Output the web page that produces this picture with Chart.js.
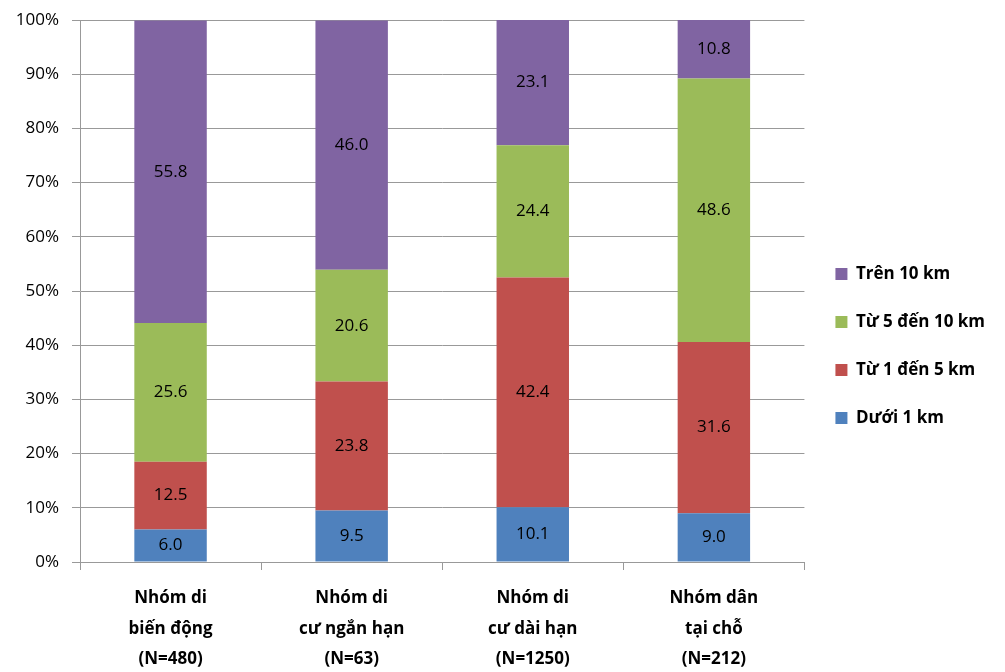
<!DOCTYPE html>
<html>
<head>
<meta charset="utf-8">
<script src="https://cdn.jsdelivr.net/npm/chart.js@4.4.0/dist/chart.umd.min.js"></script>
<style>
  html, body { margin: 0; padding: 0; background: #fff; }
  #wrap { width: 1005px; height: 672px; }
</style>
</head>
<body>
<div id="wrap"><canvas id="chart" width="1005" height="672"></canvas></div>
<script>
const groups = [
  ['Nhóm di', 'biến động', '(N=480)'],
  ['Nhóm di', 'cư ngắn hạn', '(N=63)'],
  ['Nhóm di', 'cư dài hạn', '(N=1250)'],
  ['Nhóm dân', 'tại chỗ', '(N=212)']
]
const under1 = [6.0, 9.5, 10.1, 9.0]
const from1to5 = [12.5, 23.8, 42.4, 31.6]
const from5to10 = [25.6, 20.6, 24.4, 48.6]
const over10 = [55.8, 46.0, 23.1, 10.8]

const font = '"Open Sans", Lato, sans-serif'
const gridGray = '#999999'

// writes the value in the middle of each segment
const segmentLabels = {
  id: 'segmentLabels',
  afterDatasetsDraw(chart) {
    const ctx = chart.ctx
    ctx.save()
    ctx.font = '17px ' + font
    ctx.fillStyle = '#000'
    ctx.textAlign = 'center'
    ctx.textBaseline = 'middle'
    chart.data.datasets.forEach((ds, i) => {
      chart.getDatasetMeta(i).data.forEach((bar, j) => {
        const p = bar.getCenterPoint()
        ctx.fillText(ds.data[j].toFixed(1), p.x, p.y)
      })
    })
    ctx.restore()
  }
}

const ctx = document.getElementById('chart').getContext('2d')
const myChart = new Chart(ctx, {
  type: 'bar',
  data: {
    labels: groups,
    datasets: [
      { label: 'Dưới 1 km', data: under1, backgroundColor: '#4F81BD' },
      { label: 'Từ 1 đến 5 km', data: from1to5, backgroundColor: '#C0504D' },
      { label: 'Từ 5 đến 10 km', data: from5to10, backgroundColor: '#9BBB59' },
      { label: 'Trên 10 km', data: over10, backgroundColor: '#8064A2' }
    ]
  },
  options: {
    responsive: false,
    animation: false,
    layout: { padding: { top: 20, left: 0, right: 10, bottom: 0 } },
    datasets: { bar: { barPercentage: 0.4, categoryPercentage: 1 } },
    scales: {
      x: {
        stacked: true,
        grid: { drawOnChartArea: false, tickLength: 8, color: gridGray },
        border: { color: gridGray },
        ticks: { color: '#000', padding: 13, font: { family: font, size: 17, weight: 'bold', lineHeight: 1.8 } },
        afterFit(scale) { scale.height = 110 }
      },
      y: {
        stacked: true,
        min: 0,
        max: 100,
        grid: { color: gridGray, tickLength: 8 },
        border: { color: gridGray },
        ticks: {
          stepSize: 10,
          color: '#000',
          padding: 13,
          font: { family: font, size: 17 },
          callback: v => v + '%'
        },
        afterFit(scale) {
          scale.width = 80
          scale.paddingTop = 0
          scale.paddingBottom = 0
        }
      }
    },
    plugins: {
      tooltip: { enabled: false },
      legend: {
        position: 'right',
        reverse: true,
        labels: {
          color: '#000',
          boxWidth: 12,
          boxHeight: 12,
          padding: 31,
          font: { family: font, size: 17, weight: 'bold' }
        }
      }
    }
  },
  plugins: [segmentLabels]
})
</script>
</body>
</html>
